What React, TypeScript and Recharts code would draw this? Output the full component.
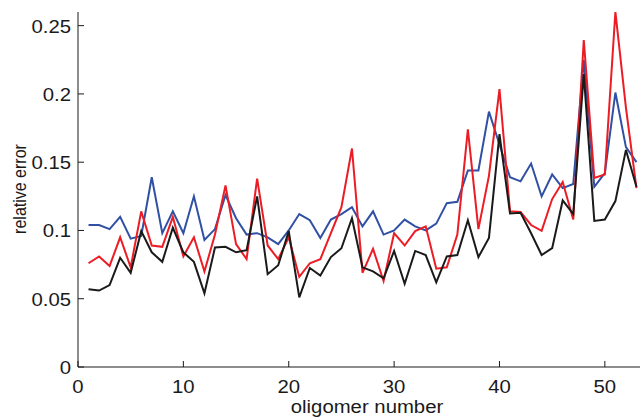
import React from "react";
import { Label, Line, LineChart, XAxis, YAxis } from "recharts";

const oligomer = Array.from({ length: 53 }, (_, i) => i + 1);

const redErr = [
  0.076, 0.081, 0.074, 0.095, 0.073, 0.114, 0.089, 0.088, 0.11, 0.081,
  0.095, 0.07, 0.097, 0.133, 0.09, 0.079, 0.138, 0.089, 0.079, 0.095,
  0.066, 0.076, 0.079, 0.098, 0.117, 0.16, 0.069, 0.0865, 0.063, 0.098,
  0.089, 0.0995, 0.103, 0.072, 0.073, 0.097, 0.174, 0.101, 0.14, 0.2035,
  0.114, 0.1135, 0.104, 0.0997, 0.123, 0.1355, 0.108, 0.2395, 0.1385, 0.141,
  0.26, 0.19, 0.131,
];

const blueErr = [
  0.104, 0.104, 0.101, 0.11, 0.094, 0.096, 0.139, 0.098, 0.114, 0.098,
  0.125, 0.093, 0.101, 0.126, 0.109, 0.097, 0.098, 0.095, 0.09, 0.1,
  0.112, 0.1075, 0.0945, 0.108, 0.112, 0.117, 0.103, 0.114, 0.097, 0.1,
  0.108, 0.103, 0.1, 0.105, 0.12, 0.121, 0.144, 0.144, 0.187, 0.163,
  0.139, 0.136, 0.149, 0.125, 0.141, 0.131, 0.134, 0.225, 0.132, 0.142,
  0.201, 0.161, 0.15,
];

const blackErr = [
  0.057, 0.056, 0.06, 0.08, 0.069, 0.0995, 0.084, 0.077, 0.102, 0.084,
  0.077, 0.054, 0.0875, 0.088, 0.084, 0.0855, 0.125, 0.068, 0.0745, 0.0995,
  0.051, 0.0725, 0.067, 0.0805, 0.087, 0.109, 0.073, 0.07, 0.065, 0.085,
  0.061, 0.085, 0.082, 0.062, 0.081, 0.082, 0.1075, 0.0805, 0.0945, 0.1705,
  0.1125, 0.113, 0.098, 0.082, 0.087, 0.122, 0.112, 0.2145, 0.107, 0.108,
  0.1215, 0.159, 0.132,
];

const xTicks = [0, 10, 20, 30, 40, 50];
const yTicks = [0, 0.05, 0.1, 0.15, 0.2, 0.25];

const data = oligomer.map((n, i) => ({
  n,
  red: redErr[i],
  blue: blueErr[i],
  black: blackErr[i],
}));

const FONT = "'Liberation Sans', Arial, Helvetica, sans-serif";
const INK = "#1a1a1a";
const SX = 1.13; // the reference text is a little wide

const BottomTick = (props: any) => {
  const { x, y, payload } = props;
  return (
    <g>
      <line x1={x} y1={y} x2={x} y2={y - 6} stroke={INK} strokeWidth={1} />
      <text
        transform={`translate(${x} ${y + 26}) scale(${SX} 1)`}
        textAnchor="middle"
        fontSize={18}
        fill={INK}
        fontFamily={FONT}
      >
        {payload.value}
      </text>
    </g>
  );
};

const TopTick = (props: any) => {
  const { x, y } = props;
  return <line x1={x} y1={y} x2={x} y2={y + 6} stroke={INK} strokeWidth={1} />;
};

const LeftTick = (props: any) => {
  const { x, y, payload } = props;
  return (
    <g>
      <line x1={x} y1={y} x2={x + 6} y2={y} stroke={INK} strokeWidth={1} />
      <text
        transform={`translate(${x - 7} ${y + 7}) scale(${SX} 1)`}
        textAnchor="end"
        fontSize={18}
        fill={INK}
        fontFamily={FONT}
      >
        {String(payload.value)}
      </text>
    </g>
  );
};

const App = () => {
  return (
    <div
      style={{
        position: "absolute",
        left: 0,
        top: 0,
        width: 640,
        height: 417,
        overflow: "hidden",
        background: "#fff",
      }}
    >
      <LineChart
        width={660}
        height={417}
        data={data}
        margin={{ top: 12, right: 13, bottom: 0, left: 0 }}
      >
        <XAxis
          dataKey="n"
          type="number"
          domain={[0, 54]}
          ticks={xTicks}
          allowDataOverflow
          height={50}
          tickSize={0}
          tickMargin={0}
          tick={BottomTick}
          axisLine={{ stroke: INK, strokeWidth: 1 }}
        >
          <Label
            content={() => (
              <text
                transform={`translate(367 413) scale(${SX} 1)`}
                textAnchor="middle"
                fontSize={18}
                fill={INK}
                fontFamily={FONT}
              >
                oligomer number
              </text>
            )}
          />
        </XAxis>
        <XAxis
          xAxisId="top"
          orientation="top"
          dataKey="n"
          type="number"
          domain={[0, 54]}
          ticks={xTicks}
          allowDataOverflow
          height={0}
          tickSize={0}
          tickMargin={0}
          tick={TopTick}
          axisLine={{ stroke: INK, strokeWidth: 1 }}
        />
        <YAxis
          type="number"
          domain={[0, 0.26]}
          ticks={yTicks}
          allowDataOverflow
          width={78}
          tickSize={0}
          tickMargin={0}
          tick={LeftTick}
          axisLine={{ stroke: INK, strokeWidth: 1 }}
        >
          <Label
            content={() => (
              <text
                transform="translate(26 189) rotate(-90) scale(1 1.13)"
                textAnchor="middle"
                fontSize={16}
                fill={INK}
                fontFamily={FONT}
              >
                relative error
              </text>
            )}
          />
        </YAxis>
        <Line dataKey="blue" type="linear" stroke="#3050a4" strokeWidth={2} dot={false} isAnimationActive={false} />
        <Line dataKey="red" type="linear" stroke="#ec1c24" strokeWidth={2} dot={false} isAnimationActive={false} />
        <Line dataKey="black" type="linear" stroke="#1a1a1a" strokeWidth={2} dot={false} isAnimationActive={false} />
      </LineChart>
    </div>
  );
};

export default App;
